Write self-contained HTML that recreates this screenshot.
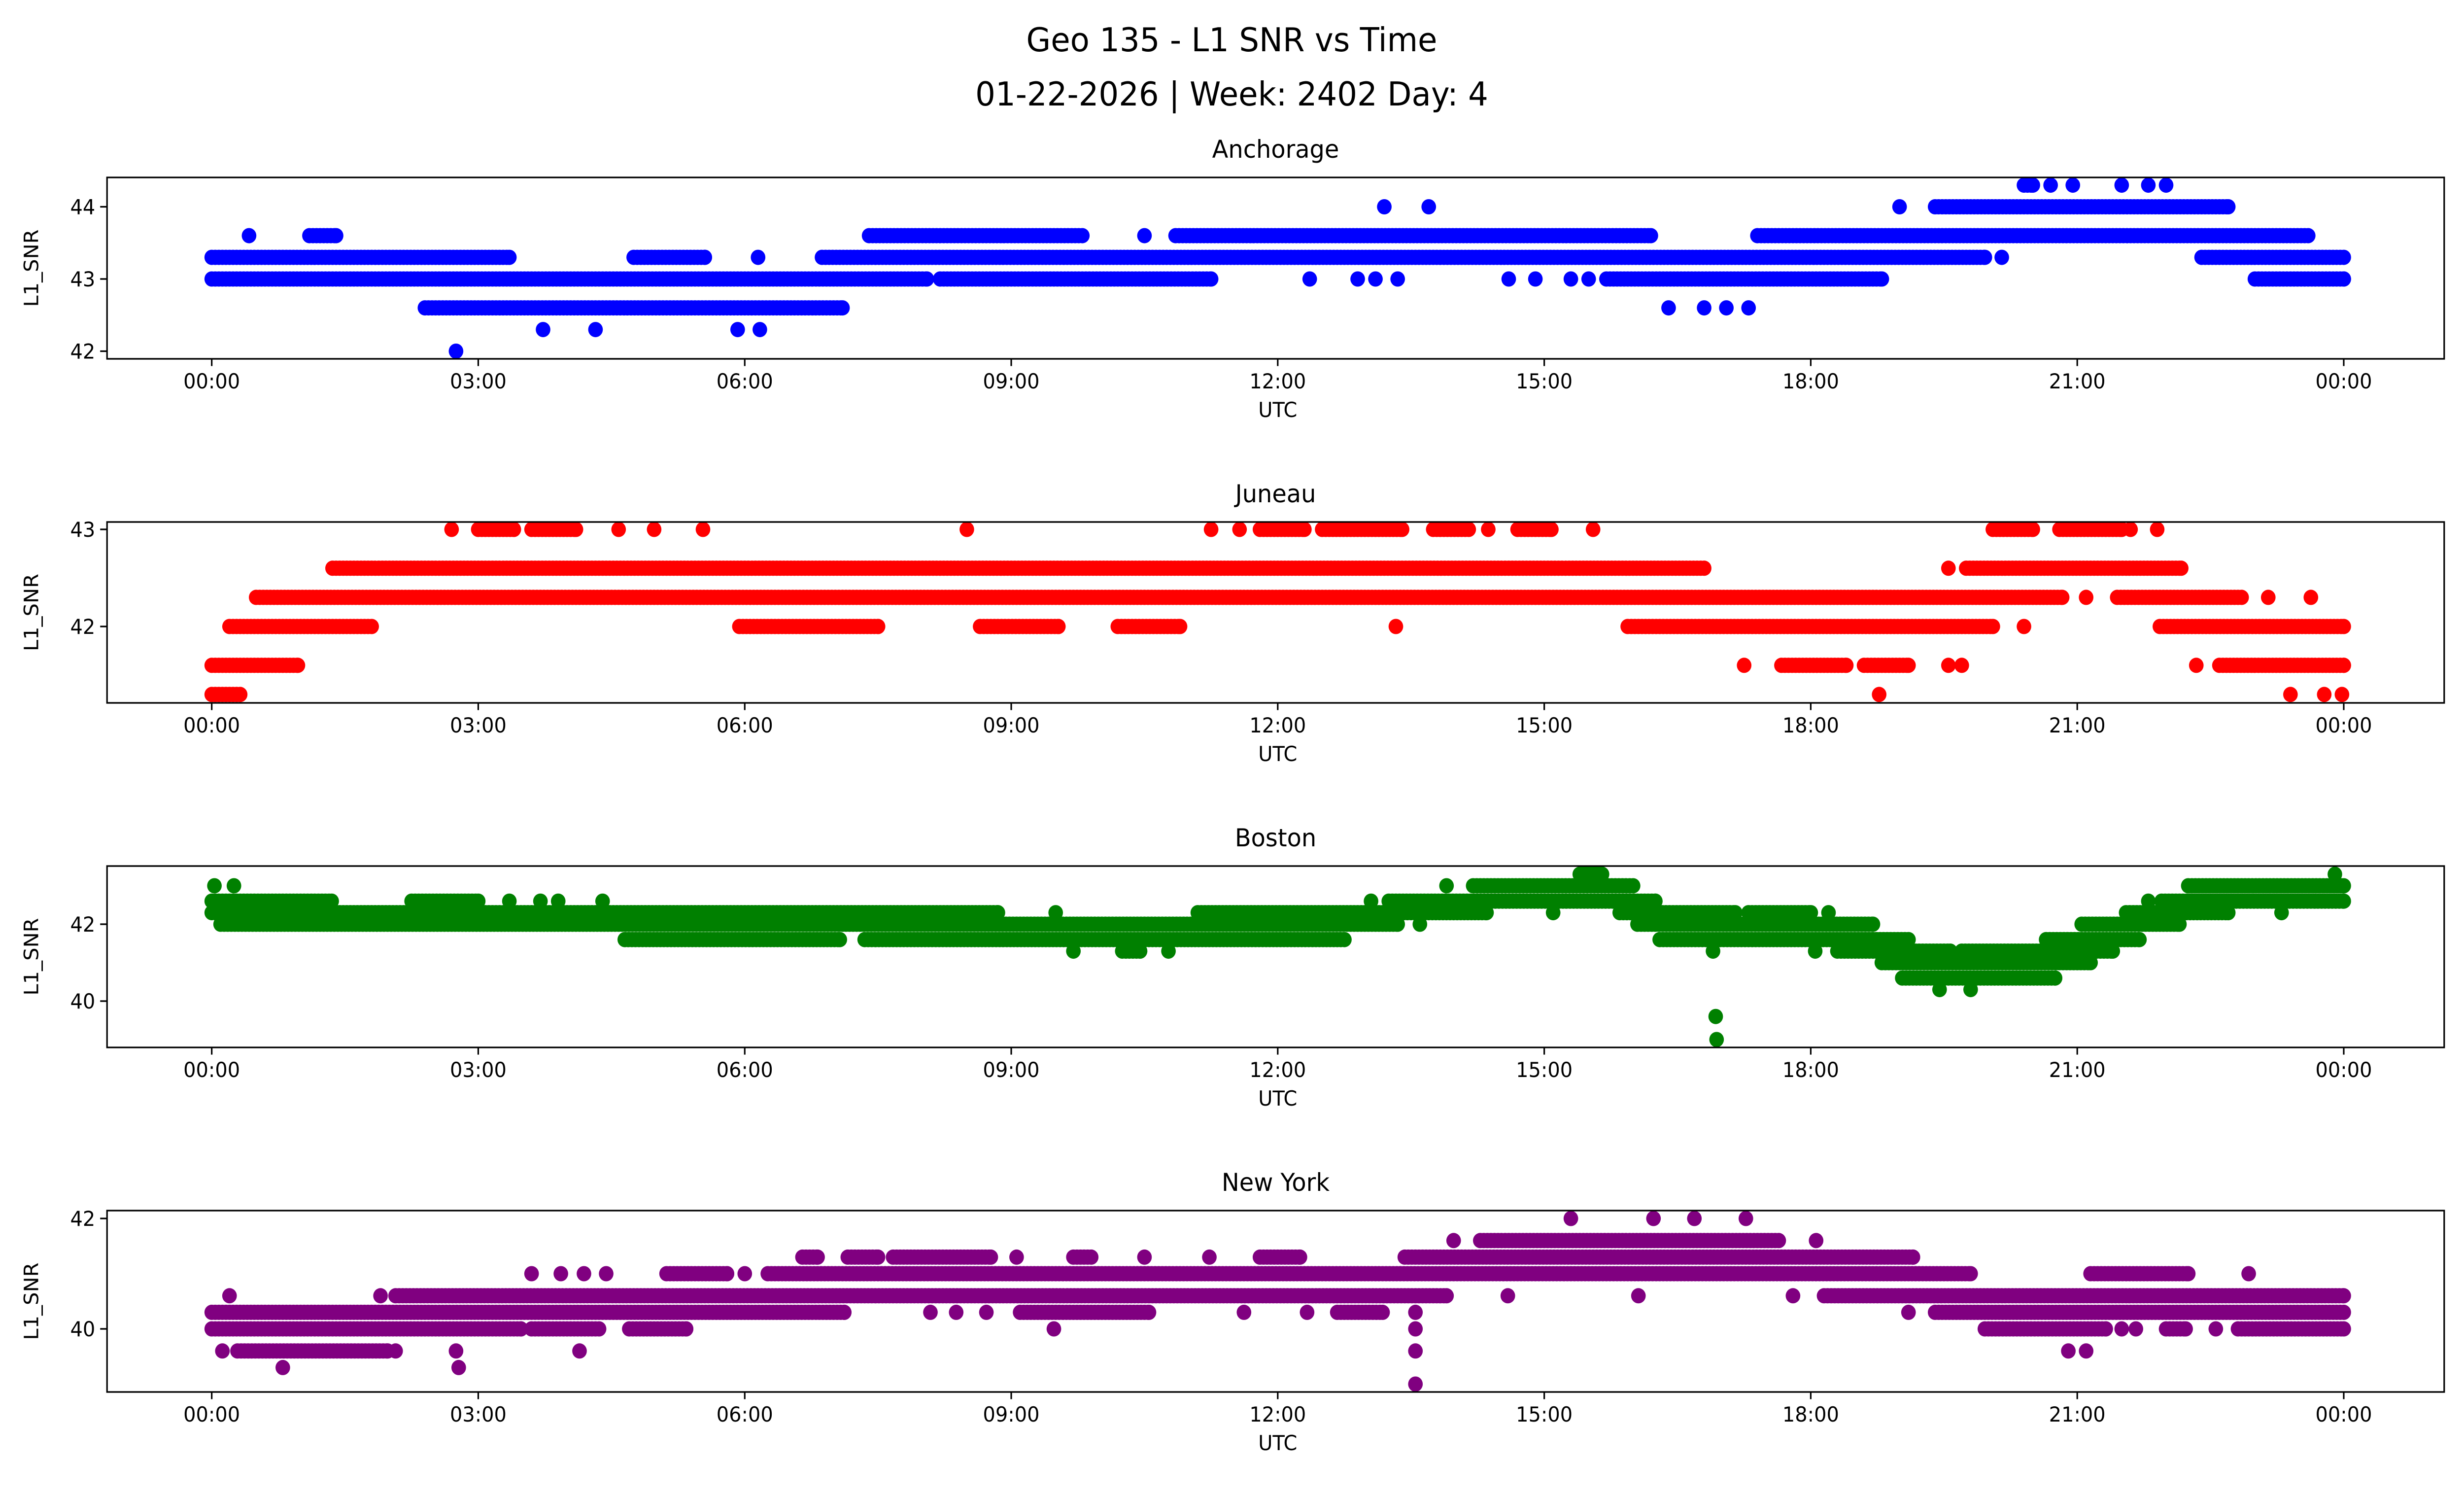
<!DOCTYPE html>
<html><head><meta charset="utf-8"><title>Geo 135 - L1 SNR vs Time</title>
<style>html,body{margin:0;padding:0;background:#fff;overflow:hidden;width:100%;height:100%}svg{display:block;width:100vw;height:100vh}text{font-family:"DejaVu Sans","Liberation Sans",sans-serif;fill:#000}</style>
</head><body>
<svg id="chart" xmlns="http://www.w3.org/2000/svg" viewBox="0 0 5225 3033" preserveAspectRatio="none">
<rect width="5225" height="3033" fill="#fff"/>
<text x="2612" y="104" font-size="67" text-anchor="middle">Geo 135 - L1 SNR vs Time</text>
<text x="2612" y="214" font-size="67" text-anchor="middle">01-22-2026 | Week: 2402 Day: 4</text>
</svg>
<script>
const xTickHours = [0,3,6,9,12,15,18,21,24];
const xTickLabels = ["00:00","03:00","06:00","09:00","12:00","15:00","18:00","21:00","00:00"];

const anchLevels = [44.3, 44.0, 43.6, 43.3, 43.0, 42.6, 42.3, 42.0];
const anchRanges = [
  [[20.4,20.5],[20.7,20.7],[20.95,20.95],[21.5,21.5],[21.8,21.8],[22.0,22.0]],
  [[13.2,13.2],[13.7,13.7],[19.0,19.0],[19.4,22.7]],
  [[0.42,0.42],[1.1,1.4],[7.4,9.8],[10.5,10.5],[10.85,16.2],[17.4,23.6]],
  [[0,3.35],[4.75,5.55],[6.15,6.15],[6.87,19.96],[20.15,20.15],[22.4,24]],
  [[0,8.05],[8.2,11.25],[12.36,12.36],[12.9,12.9],[13.1,13.1],[13.35,13.35],[14.6,14.6],[14.9,14.9],[15.3,15.3],[15.5,15.5],[15.7,18.8],[23.0,24]],
  [[2.4,7.1],[16.4,16.4],[16.8,16.8],[17.05,17.05],[17.3,17.3]],
  [[3.73,3.73],[4.32,4.32],[5.92,5.92],[6.17,6.17]],
  [[2.75,2.75]]
];

const junLevels = [43.0, 42.6, 42.3, 42.0, 41.6, 41.3];
const junRanges = [
  [[2.7,2.7],[3.0,3.4],[3.6,4.1],[4.58,4.58],[4.98,4.98],[5.53,5.53],[8.5,8.5],[11.25,11.25],[11.57,11.57],[11.8,12.3],[12.5,13.4],[13.75,14.15],[14.37,14.37],[14.7,15.08],[15.55,15.55],[20.05,20.5],[20.8,21.5],[21.6,21.6],[21.9,21.9]],
  [[1.36,16.8],[19.55,19.55],[19.75,22.17]],
  [[0.5,20.83],[21.1,21.1],[21.45,22.85],[23.15,23.15],[23.63,23.63]],
  [[0.2,1.8],[5.94,7.5],[8.65,9.53],[10.2,10.9],[13.33,13.33],[15.94,20.05],[20.4,20.4],[21.93,24]],
  [[0,0.97],[17.25,17.25],[17.67,18.4],[18.6,19.1],[19.55,19.55],[19.7,19.7],[22.34,22.34],[22.6,24]],
  [[0,0.32],[18.77,18.77],[23.4,23.4],[23.78,23.78],[23.98,23.98]]
];

const bosLevels = [43.3, 43.0, 42.6, 42.3, 42.0, 41.6, 41.3, 41.0, 40.6, 40.3, 39.6, 39.0];
const bosRanges = [
  [[15.4,15.65],[23.9,23.9]],
  [[0.03,0.03],[0.25,0.25],[13.9,13.9],[14.2,16.0],[22.25,24]],
  [[0,1.35],[2.25,3.0],[3.35,3.35],[3.7,3.7],[3.9,3.9],[4.4,4.4],[13.05,13.05],[13.25,16.25],[21.8,21.8],[21.95,24]],
  [[0,8.85],[9.5,9.5],[11.1,14.35],[15.1,15.1],[15.85,17.15],[17.3,18.0],[18.2,18.2],[21.55,22.7],[23.3,23.3]],
  [[0.1,13.35],[13.6,13.6],[16.05,18.7],[21.05,22.15]],
  [[4.65,7.07],[7.35,12.75],[16.3,19.1],[20.65,21.7]],
  [[9.7,9.7],[10.25,10.45],[10.77,10.77],[16.9,16.9],[18.05,18.05],[18.3,19.57],[19.7,21.4]],
  [[18.8,21.15]],
  [[19.03,20.75]],
  [[19.45,19.45],[19.8,19.8]],
  [[16.93,16.93]],
  [[16.94,16.94]]
];

const nyLevels = [42.0, 41.6, 41.3, 41.0, 40.6, 40.3, 40.0, 39.6, 39.3, 39.0];
const nyRanges = [
  [[15.3,15.3],[16.23,16.23],[16.69,16.69],[17.27,17.27]],
  [[13.98,13.98],[14.28,17.64],[18.06,18.06]],
  [[6.65,6.82],[7.16,7.5],[7.67,8.77],[9.06,9.06],[9.7,9.9],[10.5,10.5],[11.23,11.23],[11.8,12.25],[13.43,19.15]],
  [[3.6,3.6],[3.93,3.93],[4.19,4.19],[4.44,4.44],[5.12,5.8],[6.0,6.0],[6.26,19.8],[21.15,22.25],[22.93,22.93]],
  [[0.2,0.2],[1.9,1.9],[2.07,13.9],[14.59,14.59],[16.06,16.06],[17.8,17.8],[18.15,24]],
  [[0,7.12],[8.09,8.09],[8.38,8.38],[8.72,8.72],[9.1,10.55],[11.62,11.62],[12.33,12.33],[12.67,13.18],[13.55,13.55],[19.1,19.1],[19.4,24]],
  [[0,3.48],[3.6,4.36],[4.7,5.34],[9.48,9.48],[13.55,13.55],[19.96,21.32],[21.5,21.5],[21.66,21.66],[22.0,22.22],[22.56,22.56],[22.81,24]],
  [[0.12,0.12],[0.29,1.98],[2.07,2.07],[2.75,2.75],[4.14,4.14],[13.55,13.55],[20.9,20.9],[21.1,21.1]],
  [[0.8,0.8],[2.78,2.78]],
  [[13.55,13.55]]
];

const anchYTicks = [42,43,44];
const junYTicks = [42,43];
const bosYTicks = [40,42];
const nyYTicks = [40,42];

const NS = "http://www.w3.org/2000/svg";
const svg = document.getElementById('chart');
const AX_L = 227, AX_R = 5183;
const X0 = 449, XPH = 188.375;
function xScale(h){ return X0 + h * XPH; }

const panels = [
  {name:'anchorage', title:'Anchorage', color:'#0000ff', top:360, bottom:728, ref:43, refPx:566, ppu:146.5, levels:anchLevels, ranges:anchRanges, yt:anchYTicks},
  {name:'juneau', title:'Juneau', color:'#ff0000', top:1059, bottom:1426, ref:43, refPx:1074, ppu:197, levels:junLevels, ranges:junRanges, yt:junYTicks},
  {name:'boston', title:'Boston', color:'#008000', top:1757, bottom:2125, ref:42, refPx:1875, ppu:78, levels:bosLevels, ranges:bosRanges, yt:bosYTicks},
  {name:'new-york', title:'New York', color:'#800080', top:2456, bottom:2824, ref:42, refPx:2472, ppu:112, levels:nyLevels, ranges:nyRanges, yt:nyYTicks}
];

function mk(tag, attrs, parent){
  const e = document.createElementNS(NS, tag);
  for (const k in attrs) e.setAttribute(k, attrs[k]);
  (parent||svg).appendChild(e);
  return e;
}

panels.forEach(p => {
  const yScale = v => p.refPx + (p.ref - v) * p.ppu;
  const g = mk('g', {});
  
  

  const t = mk('text', {x:(AX_L+AX_R)/2, y:p.top-40, 'font-size':50, 'text-anchor':'middle'}, g);
  t.textContent = p.title;
  
  

  const clipId = 'clip-' + p.name;
  const cp = mk('clipPath', {id:clipId}, g);
  mk('rect', {x:AX_L, y:p.top, width:AX_R-AX_L, height:p.bottom-p.top}, cp);

  const pts = mk('g', {'clip-path':'url(#'+clipId+')', fill:p.color}, g);
  
  
  p.levels.forEach((lv, i) => {
    const cy = yScale(lv);
    p.ranges[i].forEach(r => {
      for (let h = r[0]; h <= r[1] + 1e-9; h += 0.04) {
        const c = mk('circle', {cx:xScale(h).toFixed(1), cy:cy.toFixed(1), r:15.5}, pts);
        
        
      }
      if ((r[1]-r[0]) % 0.04 > 0.001) {
        const c = mk('circle', {cx:xScale(r[1]).toFixed(1), cy:cy.toFixed(1), r:15.5}, pts);
        
        
      }
    });
  });

  const frame = mk('rect', {x:AX_L, y:p.top, width:AX_R-AX_L, height:p.bottom-p.top, fill:'none', stroke:'#000', 'stroke-width':3.3}, g);
  
  

  xTickHours.forEach((h, i) => {
    const x = xScale(h);
    mk('line', {x1:x, x2:x, y1:p.bottom, y2:p.bottom+14.6, stroke:'#000', 'stroke-width':3.3}, g);
    const lt = mk('text', {x:x, y:p.bottom+60, 'font-size':41.7, 'text-anchor':'middle'}, g);
    lt.textContent = xTickLabels[i];
    
    
  });
  const xl = mk('text', {x:xScale(12), y:p.bottom+118, 'font-size':41.7, 'text-anchor':'middle'}, g);
  xl.textContent = 'UTC';
  
  

  p.yt.forEach(v => {
    const y = yScale(v);
    mk('line', {x1:AX_L-14.6, x2:AX_L, y1:y, y2:y, stroke:'#000', 'stroke-width':3.3}, g);
    const lt = mk('text', {x:AX_L-25, y:y+15, 'font-size':41.7, 'text-anchor':'end'}, g);
    lt.textContent = String(v);
    
    
  });
  const cyMid = (p.top+p.bottom)/2;
  const yl = mk('text', {x:0, y:0, 'font-size':41.7, 'text-anchor':'middle', transform:'translate(81,'+cyMid+') rotate(-90)'}, g);
  yl.textContent = 'L1_SNR';
  
  
});
</script>
</body></html>
